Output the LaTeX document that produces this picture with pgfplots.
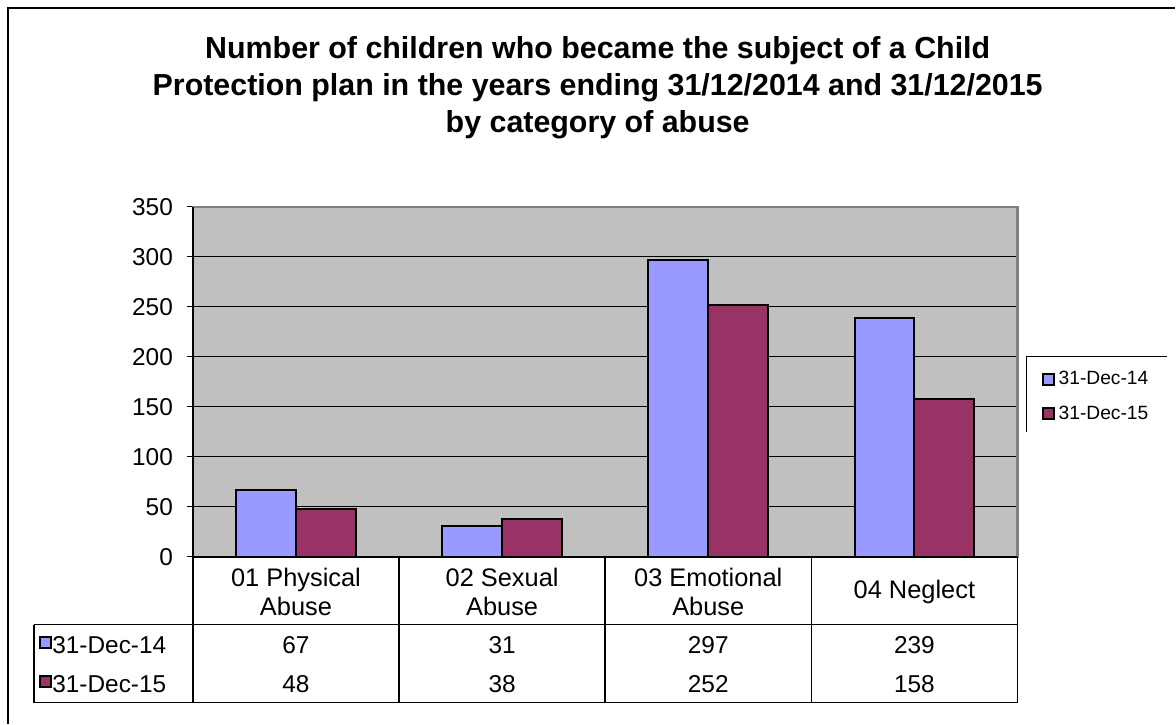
\documentclass[border=0pt]{standalone}
\usepackage{pgfplots}
\pgfplotsset{compat=1.18}
\usepackage{pgfplotstable}
\usepackage{fontspec}
\setmainfont{Liberation Sans}
\definecolor{barblue}{HTML}{9999FF}
\definecolor{barred}{HTML}{993366}
\definecolor{plotgray}{HTML}{C0C0C0}
\definecolor{bordergray}{HTML}{808080}

\pgfplotstableread{
x a b
0 67 48
1 31 38
2 297 252
3 239 158
}\datatable

\begin{document}
\begin{tikzpicture}
\path (0pt,0pt) rectangle (588pt,362pt);
\draw[black, line width=0.6pt] (4pt,0pt) -- (4pt,358pt) -- (588pt,358pt);
\node[align=center, font=\bfseries\fontsize{15.2}{18.5}\selectfont] at (299pt,318pt)
  {Number of children who became the subject of a Child\\Protection plan in the years ending 31/12/2014 and 31/12/2015\\by category of abuse};
\begin{axis}[
  at={(96.5pt,83.5pt)}, anchor=south west,
  scale only axis, width=412.5pt, height=175pt,
  xmin=-0.5, xmax=3.5, ymin=0, ymax=350,
  ytick={0,50,...,350}, xtick=\empty, ytick pos=left,
  ymajorgrids, grid style={black, line width=0.6pt},
  axis background/.style={fill=plotgray},
  axis line style={bordergray, line width=1.2pt},
  ybar=0pt, bar width=0.29,
  clip=false,
  tick style={black, line width=0.6pt},
  tick align=outside, major tick length=3pt,
  yticklabel style={font=\fontsize{12.2}{14}\selectfont, xshift=-3.5pt},
  /pgf/number format/assume math mode=true,
  legend style={at={(rel axis cs:1.0109,0.5714)}, anchor=north west, draw=none, fill=white,
    font=\fontsize{9.6}{11}\selectfont, row sep=5pt, inner ysep=5pt, inner xsep=7.5pt},
  legend cell align=left,
  legend image code/.code={\draw[#1, line width=0.9pt] (0pt,-2.75pt) rectangle (5.5pt,2.75pt);},
]
\addplot[fill=barblue, draw=black, line width=1pt] table[x=x,y=a]{\datatable};
\addlegendentry{31-Dec-14}
\addplot[fill=barred, draw=black, line width=1pt] table[x=x,y=b]{\datatable};
\addlegendentry{31-Dec-15}
% legend frame (open at the bottom as in the reference)
\draw[black, line width=0.6pt] (rel axis cs:1.0109,0.357) -- (rel axis cs:1.0109,0.5714) -- (rel axis cs:1.1806,0.5714) -- (rel axis cs:1.1806,0.357);
% axis lines left/bottom in black
\draw[black, line width=0.8pt] (rel axis cs:0,1) -- (rel axis cs:0,0) -- (rel axis cs:1,0);
% data table grid
\draw[black, line width=0.75pt] (axis cs:-1.271,-68) -- (axis cs:3.5,-68);
\draw[black, line width=0.75pt] (axis cs:-1.271,-146) -- (axis cs:3.5,-146);
\draw[black, line width=0.75pt] (axis cs:-1.271,-68) -- (axis cs:-1.271,-146);
\pgfplotsinvokeforeach{-0.5,0.5,1.5,2.5,3.5}{\draw[black, line width=0.75pt] (axis cs:#1,0) -- (axis cs:#1,-146);}
% category labels
\node[align=center, font=\fontsize{12.7}{14.5}\selectfont] at (axis cs:0,-35) {01 Physical\\Abuse};
\node[align=center, font=\fontsize{12.7}{14.5}\selectfont] at (axis cs:1,-35) {02 Sexual\\Abuse};
\node[align=center, font=\fontsize{12.7}{14.5}\selectfont] at (axis cs:2,-35) {03 Emotional\\Abuse};
\node[align=center, font=\fontsize{12.7}{14.5}\selectfont] at (axis cs:3,-35) {04 Neglect};
% values
\pgfplotsinvokeforeach{0,1,2,3}{
  \pgfplotstablegetelem{#1}{a}\of\datatable
  \edef\tmp{\noexpand\node[font=\noexpand\fontsize{12.2}{14}\noexpand\selectfont] at (axis cs:#1,-88) {\pgfplotsretval};}\tmp
  \pgfplotstablegetelem{#1}{b}\of\datatable
  \edef\tmp{\noexpand\node[font=\noexpand\fontsize{12.2}{14}\noexpand\selectfont] at (axis cs:#1,-127) {\pgfplotsretval};}\tmp
}
% row headers
\draw[fill=barblue, draw=black, line width=0.9pt] (axis cs:-1.2418,-80) rectangle (axis cs:-1.1885,-91);
\draw[fill=barred, draw=black, line width=0.9pt] (axis cs:-1.2418,-119) rectangle (axis cs:-1.1885,-130);
\node[anchor=west, inner xsep=0pt, font=\fontsize{12.2}{14}\selectfont] at (axis cs:-1.1836,-88) {31-Dec-14};
\node[anchor=west, inner xsep=0pt, font=\fontsize{12.2}{14}\selectfont] at (axis cs:-1.1836,-127) {31-Dec-15};
\end{axis}
\end{tikzpicture}
\end{document}
